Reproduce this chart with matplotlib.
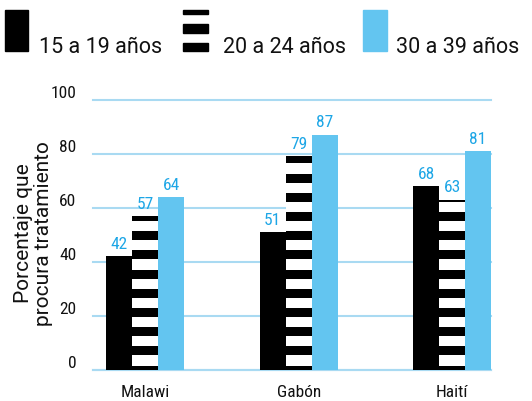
import matplotlib
matplotlib.use("Agg")
import matplotlib.pyplot as plt
from matplotlib import font_manager
from matplotlib.patches import Rectangle

# data
countries = ["Malawi", "Gabón", "Haití"]
groups = ["15 a 19 años", "20 a 24 años", "30 a 39 años"]
age_15_19 = [42, 51, 68]
age_20_24 = [57, 79, 63]
age_30_39 = [64, 87, 81]
yticks = [0, 20, 40, 60, 80, 100]

BLUE = "#63C5F0"
LABEL_BLUE = "#1DA6E6"
GRID = "#A9DAF2"

names = {f.name for f in font_manager.fontManager.ttflist}
if "Roboto Condensed" in names:
    COND = "Roboto Condensed"
elif "Liberation Sans Narrow" in names:
    COND = "Liberation Sans Narrow"
else:
    COND = "Roboto"
REG = "Roboto"

W, H = 532, 402
fig = plt.figure(figsize=(W / 100, H / 100), dpi=100)
ax = fig.add_axes([93 / W, (H - 371) / H, (491 - 93) / W, (371 - 100.7) / H])

x = list(range(len(countries)))
bw = 0.169
period, thick = 7.1, 3.3

for i, xi in enumerate(x):
    ax.bar(xi - bw, age_15_19[i], bw, color="black", zorder=3)
    v = age_20_24[i]
    ax.bar(xi, v, bw, color="white", zorder=3)
    k = 0
    while k * period - thick / 2 < v:
        lo = max(0, k * period - thick / 2)
        hi = min(v, k * period + thick / 2)
        if hi > lo:
            ax.bar(xi, hi - lo, bw, bottom=lo, color="black", zorder=4)
        k += 1
    ax.bar(xi + bw, age_30_39[i], bw, color=BLUE, zorder=3)
    for dx, val in zip((-bw, 0, bw), (age_15_19[i], age_20_24[i], age_30_39[i])):
        ax.text(xi + dx, val + 2, str(val), ha="center", va="bottom",
                color=LABEL_BLUE, fontsize=12.5, family=COND, zorder=5)

ax.set_xlim(-0.34, 2.253)
ax.set_ylim(0, 100)
ax.set_yticks(yticks)
ax.set_yticklabels([str(t) for t in yticks], family=COND, fontsize=12.5,
                   color="#111111")
ax.set_xticks(x)
ax.set_xticklabels(countries, family=COND, fontsize=12.5, color="#111111")
ax.tick_params(axis="y", length=0, pad=12)
ax.tick_params(axis="x", length=0, pad=10)
for lab in ax.get_yticklabels():
    lab.set_va("bottom")
ax.yaxis.grid(True, color=GRID, linewidth=1.5, zorder=0)
ax.set_axisbelow(True)
for s in ax.spines.values():
    s.set_visible(False)
ax.axhline(0, color=GRID, linewidth=1.5, zorder=2, clip_on=False)
for gl in ax.get_ygridlines():
    gl.set_clip_on(False)

ax.set_ylabel("Porcentaje que\nprocura tratamiento", family=REG, fontsize=15,
              linespacing=1.05, color="#111111")
ax.yaxis.set_label_coords(-0.1, 0.51)

# legend drawn in figure pixels
def fr(x0, y0, x1, y1, color):
    fig.patches.append(Rectangle((x0 / W, 1 - y1 / H), (x1 - x0) / W, (y1 - y0) / H,
                                 transform=fig.transFigure, color=color))

fr(5, 11, 28, 52, "black")
fr(183, 11, 208, 15, "black")
fr(183, 25, 208, 34, "black")
fr(183, 44, 208, 52, "black")
fr(363, 11, 387, 52, BLUE)
for tx, label in zip((39, 223, 396), groups):
    fig.text(tx / W, 1 - 53 / H, label, family=REG, fontsize=15.5, va="baseline",
             ha="left", color="#111111")

fig.savefig("out.png", dpi=100)
